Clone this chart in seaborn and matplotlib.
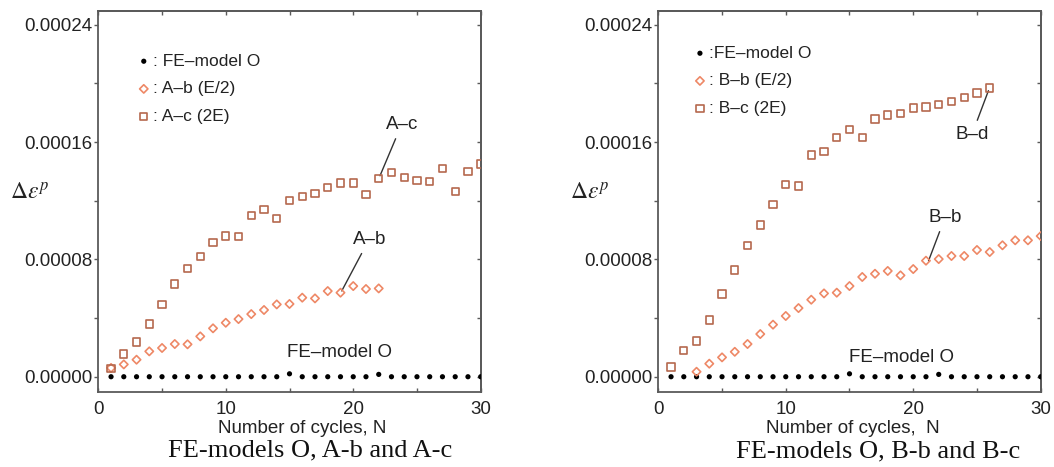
import numpy as np
import pandas as pd
import matplotlib
matplotlib.use("Agg")
import matplotlib.pyplot as plt
from matplotlib.ticker import MultipleLocator, FuncFormatter
import seaborn as sns

sns.set_theme(style="white")
plt.rcParams['font.family'] = ['Liberation Sans', 'DejaVu Sans']
plt.rcParams['mathtext.fontset'] = 'stix'

# ---------------- data (units of 1e-5) ----------------
cycles = list(range(1, 31))

fe_o_left = [0]*14 + [0.20] + [0]*6 + [0.16] + [0]*8
fe_o_right = [0]*14 + [0.20] + [0]*6 + [0.16] + [0]*8

ab_cycles = list(range(1, 23))
ab_vals = [0.60, 0.84, 1.16, 1.73, 1.96, 2.23, 2.21, 2.75, 3.30, 3.68, 3.93,
           4.27, 4.55, 4.93, 4.96, 5.39, 5.34, 5.84, 5.73, 6.18, 5.98, 6.02]

ac_cycles = list(range(1, 31))
ac_vals = [0.57, 1.55, 2.37, 3.59, 4.91, 6.32, 7.37, 8.18, 9.16, 9.59, 9.57,
           11.0, 11.4, 10.8, 12.0, 12.3, 12.5, 12.9, 13.2, 13.2, 12.4, 13.5,
           13.9, 13.6, 13.4, 13.3, 14.2, 12.6, 14.0, 14.5]

bb_cycles = list(range(3, 31))
bb_vals = [0.34, 0.89, 1.32, 1.70, 2.23, 2.91, 3.55, 4.14, 4.68, 5.25, 5.68,
           5.73, 6.18, 6.80, 7.02, 7.21, 6.91, 7.34, 7.91, 8.02, 8.23, 8.23,
           8.64, 8.50, 8.96, 9.30, 9.30, 9.59]

bc_cycles = list(range(1, 27))
bc_vals = [0.66, 1.77, 2.43, 3.87, 5.64, 7.27, 8.93, 10.34, 11.73, 13.12, 13.0,
           15.12, 15.34, 16.3, 16.84, 16.3, 17.57, 17.84, 17.93, 18.32, 18.39,
           18.55, 18.78, 19.02, 19.34, 19.68]

yticks = [0, 0.00008, 0.00016, 0.00024]
xticks = [0, 10, 20, 30]

left_labels = [": FE\u2013model O", ": A\u2013b (E/2)", ": A\u2013c (2E)"]
right_labels = [":FE\u2013model O", ": B\u2013b (E/2)", ": B\u2013c (2E)"]
captions = ["FE-models O, A-b and A-c", "FE-models O, B-b and B-c"]
xlabels = ["Number of cycles, N", "Number of cycles,  N"]

SCALE = 1e-5
C_SQ = "#b5684e"
C_DI = "#ee8866"
C_DOT = "#000000"
SPINE = "#5a5a5a"
TXT = "#222222"

fig = plt.figure(figsize=(10.54, 4.67), dpi=100)
W, H = 1054, 467
axL = fig.add_axes([98.3/W, 1-391.7/H, 382.4/W, 380.7/H])
axR = fig.add_axes([658.3/W, 1-391.7/H, 382.4/W, 380.7/H])


def draw(ax, fe, bx, bv, cx, cv, labels):
    df_o = pd.DataFrame({"N": cycles, "v": np.array(fe)*SCALE})
    df_b = pd.DataFrame({"N": bx, "v": np.array(bv)*SCALE})
    df_c = pd.DataFrame({"N": cx, "v": np.array(cv)*SCALE})
    sns.scatterplot(data=df_o, x="N", y="v", ax=ax, marker="o", s=14,
                    color=C_DOT, edgecolor="none", label=labels[0], zorder=3)
    sns.scatterplot(data=df_b, x="N", y="v", ax=ax, marker="D", s=18,
                    facecolor="none", edgecolor=C_DI, linewidth=1.2,
                    label=labels[1], zorder=4)
    sns.scatterplot(data=df_c, x="N", y="v", ax=ax, marker="s", s=27,
                    facecolor="none", edgecolor=C_SQ, linewidth=1.2,
                    label=labels[2], zorder=5)
    ax.set_xlim(0, 30)
    ax.set_ylim(-0.0000102, 0.0002493)
    ax.set_xticks(xticks)
    ax.xaxis.set_minor_locator(MultipleLocator(5))
    ax.set_yticks(yticks)
    ax.yaxis.set_minor_locator(MultipleLocator(0.00004))
    ax.yaxis.set_major_formatter(FuncFormatter(lambda v, p: f"{v:.5f}"))
    ax.tick_params(axis="y", which="both", direction="out", length=3,
                   width=1, color=SPINE, pad=1, labelsize=13.5, labelcolor=TXT,
                   left=True)
    ax.tick_params(axis="x", which="both", direction="in", length=3,
                   width=1, color=SPINE, pad=7, labelsize=13.5, labelcolor=TXT,
                   bottom=True)
    for s in ax.spines.values():
        s.set_color(SPINE)
        s.set_linewidth(1.3)
    sy = ax.secondary_yaxis("right")
    sy.set_yticks(yticks)
    sy.yaxis.set_minor_locator(MultipleLocator(0.00004))
    sy.tick_params(axis="y", which="both", direction="in", length=3, width=1,
                   color=SPINE, labelright=False)
    sy.spines["right"].set_color(SPINE)
    sy.spines["right"].set_linewidth(1.3)
    sx = ax.secondary_xaxis("top")
    sx.set_xticks(xticks)
    sx.xaxis.set_minor_locator(MultipleLocator(5))
    sx.tick_params(axis="x", which="both", direction="in", length=3, width=1,
                   color=SPINE, labeltop=False)
    sx.spines["top"].set_color(SPINE)
    sx.spines["top"].set_linewidth(1.3)
    ax.set_ylabel("")
    ax.text(-0.179, 0.52, r"$\Delta\varepsilon^{p}$", transform=ax.transAxes,
            ha="center", va="center", fontsize=17, color=TXT)


draw(axL, fe_o_left, ab_cycles, ab_vals, ac_cycles, ac_vals, left_labels)
draw(axR, fe_o_right, bb_cycles, bb_vals, bc_cycles, bc_vals, right_labels)

for ax, bx_anchor, by_anchor in [(axL, 0.103, 0.888), (axR, 0.093, 0.909)]:
    ax.legend(loc="upper left", bbox_to_anchor=(bx_anchor, by_anchor),
              frameon=False, fontsize=12.5, handlelength=0.7,
              handletextpad=0.2, labelspacing=0.72, borderpad=0,
              borderaxespad=0, labelcolor=TXT, markerscale=1.0)

arrow = dict(arrowstyle="-", color="#333333", lw=1.0, shrinkA=2, shrinkB=0)
axL.annotate("A\u2013c", xy=(22.1, 13.7e-5), xytext=(23.8, 17.2e-5),
             ha="center", va="center", fontsize=13.5, color=TXT, arrowprops=arrow)
axL.annotate("A\u2013b", xy=(19.1, 5.85e-5), xytext=(21.25, 9.37e-5),
             ha="center", va="center", fontsize=13.5, color=TXT, arrowprops=arrow)
axL.text(18.96, 1.64e-5, "FE\u2013model O", ha="center", va="center",
         fontsize=13.5, color=TXT)
axR.annotate("B\u2013d", xy=(25.9, 19.5e-5), xytext=(24.6, 16.5e-5),
             ha="center", va="center", fontsize=13.5, color=TXT, arrowprops=arrow)
axR.annotate("B\u2013b", xy=(21.2, 7.9e-5), xytext=(22.5, 10.87e-5),
             ha="center", va="center", fontsize=13.5, color=TXT, arrowprops=arrow)
axR.text(19.1, 1.3e-5, "FE\u2013model O", ha="center", va="center",
         fontsize=13.5, color=TXT)

for ax, xl, lx in [(axL, xlabels[0], 0.532), (axR, xlabels[1], 0.509)]:
    ax.set_xlabel(xl, fontsize=13.5, color=TXT)
    ax.xaxis.set_label_coords(lx, -0.074)

fig.text(309.7/W, 1-450.7/H, captions[0], ha="center", va="center",
         fontsize=19, family=["Liberation Serif", "DejaVu Serif"], color="#111111")
fig.text(878/W, 1-451/H, captions[1], ha="center", va="center",
         fontsize=19, family=["Liberation Serif", "DejaVu Serif"], color="#111111")

fig.savefig("out.png", dpi=100, facecolor="white")
